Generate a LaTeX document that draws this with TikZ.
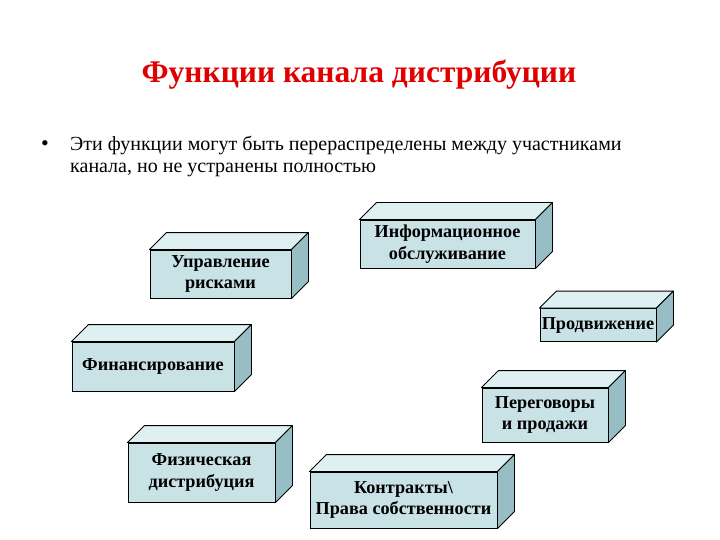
\documentclass[tikz,border=0pt]{standalone}
\usepackage{fontspec}
\setmainfont{Liberation Serif}
\usetikzlibrary{calc}

\definecolor{titlered}{RGB}{224,0,0}
\definecolor{frontcol}{RGB}{200,226,230}
\definecolor{topcol}{RGB}{222,240,242}
\definecolor{sidecol}{RGB}{150,190,196}

\begin{document}
\begin{tikzpicture}[
    x=1pt, y=-1pt,
    face/.style={
        rectangle, draw=black, line width=0.9pt, fill=frontcol,
        align=center, inner sep=0pt,
        font=\fontsize{18.2}{21.5}\selectfont\bfseries
    },
    topface/.style={fill=topcol, draw=black, line width=0.9pt, line join=round},
    sideface/.style={fill=sidecol, draw=black, line width=0.9pt, line join=round}
]
\useasboundingbox (0,0) rectangle (720,540);

\node[anchor=base, font=\fontsize{31.5}{34}\selectfont\bfseries, text=titlered] (title) at (359,83) {Функции канала дистрибуции};
\node[font=\fontsize{22}{22}\selectfont, inner sep=0pt] (dot) at (45,146) {•};
\node[anchor=base west, align=left, inner sep=0pt,
      font=\fontsize{20}{22}\selectfont] (intro) at (70,173)
    {Эти функции могут быть перераспределены между участниками\\
     канала, но не устранены полностью};

\node[face, minimum width=141, minimum height=48] (risk) at (220.5,274) {Управление\\рисками};
\node[face, minimum width=175, minimum height=48] (info) at (447.5,244) {Информационное\\обслуживание};
\node[face, minimum width=116, minimum height=33] (promo) at (598,325) {Продвижение};
\node[face, minimum width=162, minimum height=49] (fin) at (153,366.5) {Финансирование};
\node[face, minimum width=126, minimum height=54] (deal) at (545,415) {Переговоры\\и продажи};
\node[face, minimum width=147, minimum height=59] (phys) at (201.5,472.5) {Физическая\\дистрибуция};
\node[face, minimum width=187, minimum height=56] (contr) at (403.5,500) {Контракты\textbackslash\\Права собственности};

% top and side of each block
\foreach \b in {risk,info,promo,fin,deal,phys,contr} {
    \filldraw[topface] (\b.north west) -- ++(17,-17)
        -- ([shift={(17,-17)}]\b.north east) -- (\b.north east) -- cycle;
    \filldraw[sideface] (\b.north east) -- ++(17,-17)
        -- ([shift={(17,-17)}]\b.south east) -- (\b.south east) -- cycle;
}
\end{tikzpicture}
\end{document}
